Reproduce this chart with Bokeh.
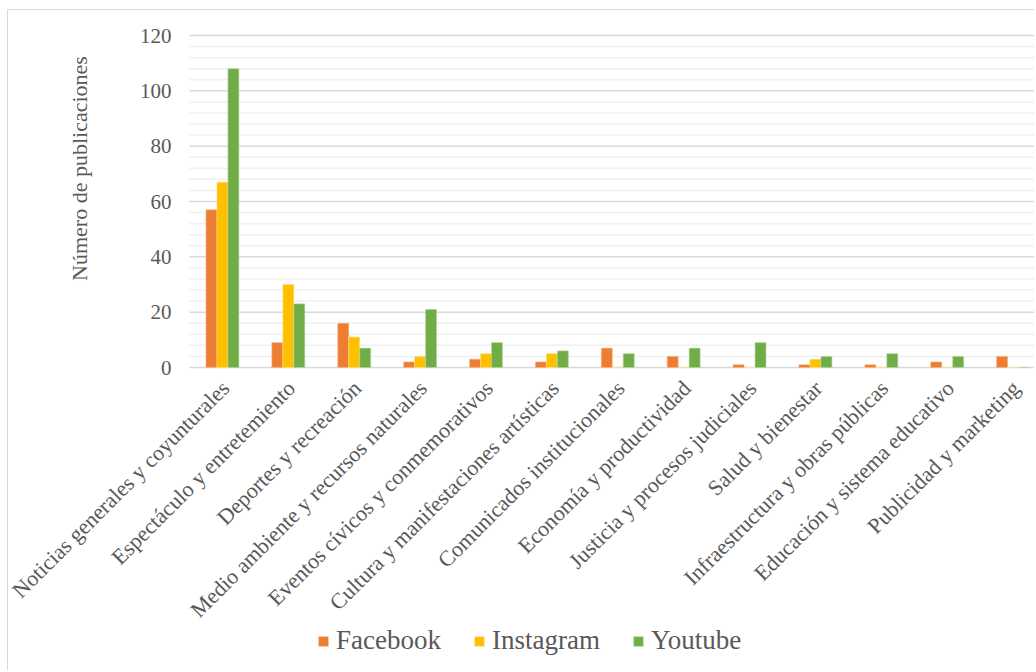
import math
from bokeh.plotting import figure
from bokeh.models import ColumnDataSource, Range1d, Legend, LegendItem
from bokeh.core.properties import value
from bokeh.transform import dodge
from bokeh.embed import file_html
from bokeh.resources import INLINE

categories = [
    "Noticias generales y coyunturales",
    "Espectáculo y entretemiento",
    "Deportes y recreación",
    "Medio ambiente y recursos naturales",
    "Eventos cívicos y conmemorativos",
    "Cultura y manifestaciones artísticas",
    "Comunicados institucionales",
    "Economía y productividad",
    "Justicia y procesos judiciales",
    "Salud y bienestar",
    "Infraestructura y obras públicas",
    "Educación y sistema educativo",
    "Publicidad y marketing",
]
facebook = [57, 9, 16, 2, 3, 2, 7, 4, 1, 1, 1, 2, 4]
instagram = [67, 30, 11, 4, 5, 5, 0, 0, 0, 3, 0, 0, 0]
youtube = [108, 23, 7, 21, 9, 6, 5, 7, 9, 4, 5, 4, 0]
y_ticks = [0, 20, 40, 60, 80, 100, 120]
y_title = "Número de publicaciones"

FONT = "Liberation Serif"
TXT = "#595959"
C_FB, C_IG, C_YT = "#ED7D31", "#FFC000", "#70AD47"

# layout (pixels)
W, H = 1027, 661
PLOT_LEFT, PLOT_TOP, PLOT_W, PLOT_H = 181, 25, 846, 332
X_END = 12.84
Y_MAX = 120
px_x = PLOT_W / X_END
px_y = PLOT_H / Y_MAX
x_start = -PLOT_LEFT / px_x
y_end = Y_MAX + PLOT_TOP / px_y
y_start = -(H - PLOT_TOP - PLOT_H) / px_y

pos = [i + 0.5 for i in range(len(categories))]
src = ColumnDataSource(dict(x=pos, fb=facebook, ig=instagram, yt=youtube, cat=categories))

p = figure(width=W, height=H, output_backend="svg", toolbar_location=None,
           x_range=Range1d(x_start, X_END), y_range=Range1d(y_start, y_end),
           x_axis_type=None, y_axis_type=None, min_border=0,
           styles={"border-left": "1px solid #d9d9d9", "border-top": "1px solid #d9d9d9",
                   "margin-top": "9px", "margin-left": "7px"})
p.outline_line_color = None
p.grid.visible = False
p.background_fill_color = "white"
p.border_fill_color = "white"

# gridlines (minor every 4, major every 20)
minor = [t + 4 * k for t in y_ticks[:-1] for k in range(1, 5)]
p.segment(x0=0, x1=X_END, y0=minor, y1=minor, line_color="#f0f0f0", line_width=1.5)
p.segment(x0=0, x1=X_END, y0=y_ticks, y1=y_ticks, line_color="#d9d9d9", line_width=1.5)

bw = 1 / 6
r_fb = p.vbar(x=dodge("x", -bw, range=p.x_range), top="fb", width=bw, source=src,
              fill_color=C_FB, line_color="#f7b58c", line_width=0.6)
r_ig = p.vbar(x=dodge("x", 0, range=p.x_range), top="ig", width=bw, source=src,
              fill_color=C_IG, line_color="#ffe08a", line_width=0.6)
r_yt = p.vbar(x=dodge("x", bw, range=p.x_range), top="yt", width=bw, source=src,
              fill_color=C_YT, line_color="#b3d69c", line_width=0.6)

# y tick labels
p.text(x=[0] * len(y_ticks), y=y_ticks, text=[str(v) for v in y_ticks],
       x_offset=-18, text_align="right", text_baseline="middle",
       text_font=value(FONT), text_font_size="21px", text_color=TXT)

# x category labels (rotated)
p.text(x="x", y=0, text="cat", source=src, angle=math.pi / 4,
       x_offset=3, y_offset=17, text_align="right", text_baseline="middle",
       text_font=value(FONT), text_font_size="22px", text_color=TXT)

# y axis title
p.text(x=[-110 / px_x], y=[(368 - 169) / px_y], text=[y_title], angle=math.pi / 2,
       text_align="center", text_baseline="middle",
       text_font=value(FONT), text_font_size="22px", text_color=TXT)

legend = Legend(items=[LegendItem(label="Facebook", renderers=[r_fb]),
                       LegendItem(label="Instagram", renderers=[r_ig]),
                       LegendItem(label="Youtube", renderers=[r_yt])],
                orientation="horizontal", location=(309, 15),
                label_text_font=FONT, label_text_font_size="27px", label_text_color=TXT,
                glyph_width=12, glyph_height=12, spacing=32, label_standoff=7,
                border_line_color=None, background_fill_alpha=0, margin=0, padding=4)
p.add_layout(legend, "center")

open("out.html", "w").write(file_html(p, INLINE))
